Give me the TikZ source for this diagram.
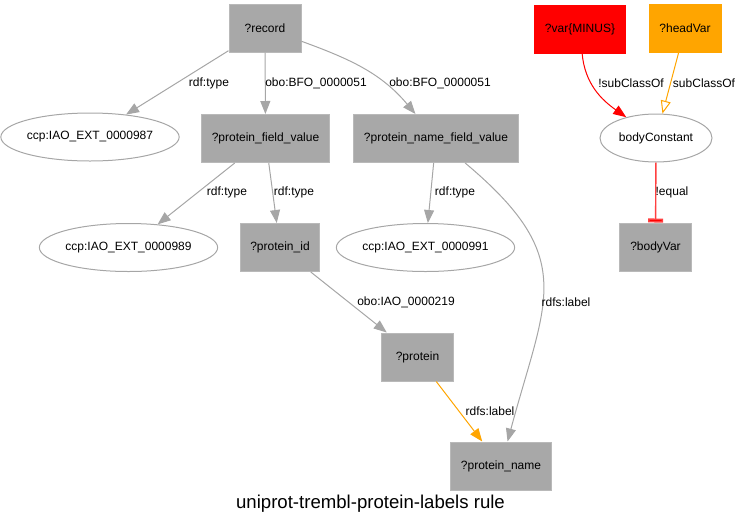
\documentclass[tikz,border=0pt]{standalone}
\usepackage{fontspec}
\setmainfont{Liberation Sans}
\usetikzlibrary{arrows.meta,shapes.geometric}
\definecolor{boxgray}{HTML}{A8A8A8}
\definecolor{edgegray}{HTML}{A6A6A6}
\definecolor{varred}{HTML}{FF0000}
\definecolor{eqred}{HTML}{FF4040}
\definecolor{headorange}{HTML}{FFA500}

\begin{document}
\begin{tikzpicture}[x=1pt, y=1pt,
		every node/.style={font=\fontsize{12}{14}\selectfont},
		var/.style={rectangle, fill=boxgray, draw=boxgray!80, line width=1, minimum width=72, minimum height=48, inner xsep=10},
		const/.style={ellipse, draw=edgegray, line width=1, minimum height=48, inner sep=0},
		edge/.style={draw=edgegray, line width=1, -{Triangle[length=13,width=10]}},
		lbl/.style={inner sep=1}]
		\useasboundingbox (0,0) rectangle (741,-528);
		% variables and constants
		\node[var] (record) at (265,-28) {?record};
		\node[const, minimum width=170] (iao987) at (90,-137) {ccp:IAO\_EXT\_0000987};
		\node[var] (fieldvalue) at (265.5,-138.5) {?protein\_field\_value};
		\node[var] (namefieldvalue) at (436,-138.5) {?protein\_name\_field\_value};
		\node[const, minimum width=171] (iao989) at (128.5,-247.5) {ccp:IAO\_EXT\_0000989};
		\node[var] (proteinid) at (280,-247.5) {?protein\_id};
		\node[const, minimum width=161] (iao991) at (425.5,-247.5) {ccp:IAO\_EXT\_0000991};
		\node[var] (protein) at (417.5,-357) {?protein};
		\node[var] (proteinname) at (501,-466) {?protein\_name};
		\node[var, fill=varred, draw=varred] (minusvar) at (580,-29) {?var\{MINUS\}};
		\node[var, fill=headorange, draw=headorange] (headvar) at (685,-28.5) {?headVar};
		\node[const, minimum width=112] (bodyconst) at (656,-138) {bodyConstant};
		\node[var] (bodyvar) at (655.5,-247) {?bodyVar};

		% edges
		\draw[edge] (record) -- (iao987);
		\draw[edge] (record) -- (fieldvalue);
		\draw[edge] (record) to[out=-20, in=130] (namefieldvalue);
		\draw[edge] (fieldvalue) -- (iao989);
		\draw[edge] (fieldvalue) -- (proteinid);
		\draw[edge] (namefieldvalue) -- (iao991);
		\draw[edge] (namefieldvalue) to[out=-40, in=75, looseness=1.35] (proteinname);
		\draw[edge] (proteinid) -- (protein);
		\draw[edge, draw=headorange, -{Triangle[length=13,width=10,fill=headorange]}] (protein) -- (proteinname);
		\draw[edge, draw=varred, -{Triangle[length=13,width=10,fill=varred]}] (minusvar) to[out=-85, in=145] (bodyconst);
		\draw[edge, draw=headorange, -{Triangle[open,length=13,width=10]}] (headvar) -- (bodyconst);
		\draw[edge, draw=eqred, line width=1.4, -{Rectangle[length=4,width=15,fill=varred]}] (bodyconst) -- (bodyvar);

		% edge labels
		\node[lbl] (l1) at (209,-83) {rdf:type};
		\node[lbl] (l2) at (316,-83) {obo:BFO\_0000051};
		\node[lbl] (l3) at (440,-83) {obo:BFO\_0000051};
		\node[lbl] (l4) at (227,-192) {rdf:type};
		\node[lbl] (l5) at (294,-192) {rdf:type};
		\node[lbl] (l6) at (455,-192) {rdf:type};
		\node[lbl] (l7) at (566,-302) {rdfs:label};
		\node[lbl] (l8) at (406,-302) {obo:IAO\_0000219};
		\node[lbl] (l9) at (490,-411) {rdfs:label};
		\node[lbl] (l10) at (631,-83) {!subClassOf};
		\node[lbl] (l11) at (704,-83) {subClassOf};
		\node[lbl] (l12) at (672,-192) {!equal};

		\node[font=\fontsize{18.6}{22}\selectfont] (title) at (370.5,-504) {uniprot-trembl-protein-labels rule};
	\end{tikzpicture}
\end{document}
